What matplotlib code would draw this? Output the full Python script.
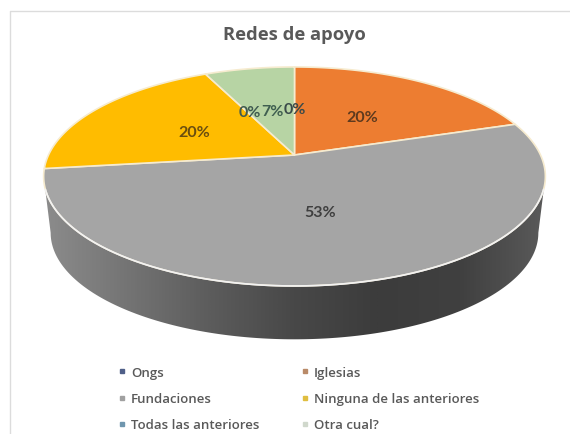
import numpy as np
import matplotlib
matplotlib.use("Agg")
import matplotlib.pyplot as plt
from matplotlib.colors import LinearSegmentedColormap
from matplotlib.lines import Line2D
from matplotlib.patches import Polygon

title = "Redes de apoyo"
categories = ["Ongs", "Iglesias", "Fundaciones", "Ninguna de las anteriores", "Todas las anteriores", "Otra cual?"]
values = [0, 20, 53, 20, 0, 7]
percent_labels = ["0%", "20%", "53%", "20%", "0%", "7%"]
colors = ["#4F5F88", "#ED7D31", "#A5A5A5", "#FFBC00", "#5F8FAE", "#B7D4A4"]
legend_colors = ["#4F5F88", "#B98A68", "#A0A0A0", "#E0BE40", "#6F96AE", "#D0D8CC"]
label_colors = ["#3A4A4A", "#5E3A1E", "#3F3F3F", "#6A4E10", "#3F5A50", "#3F5F50"]
label_pos = [(295, 110), (362, 118), (320, 213), (194, 133), (250, 113), (272, 112)]

FONT = "Open Sans"
fig = plt.figure(figsize=(5.7, 4.35), dpi=100)
ax = fig.add_axes([0, 0, 1, 1])
ax.axis("off")

# frame
ax.plot([570, 9.5, 9.5], [12, 12, 435], color="#DCDCDC", lw=1)

# perspective disc
CX, CY, B, A, K = 294.5, 156.0, 246.0, 105.3, 0.196


def project(theta, scale=1.0, shift=0.0):
    u, v = np.sin(theta), np.cos(theta)
    d = 1 + K * v
    return CX + scale * B * u / d, CY + shift - scale * A * v / d


# side wall, gradient clipped to the visible rim
widest = np.arccos(-K)
t = np.linspace(widest, 2 * np.pi - widest, 300)
bx, by = project(t, 0.972, 57)
tx, ty = project(t[::-1], 1.0, 0)
wall = Polygon(np.column_stack([np.r_[bx, tx], np.r_[by, ty]]), closed=True, transform=ax.transData, fc="none", ec="none")
ax.add_patch(wall)
cmap = LinearSegmentedColormap.from_list("wall", ["#8C8C8C", "#747474", "#5C5C5C", "#484848", "#3C3C3C", "#404040", "#5A5A5A"])
grad = ax.imshow(np.linspace(0, 1, 512)[None, :], extent=(43, 545, 345, 150), aspect="auto", cmap=cmap, zorder=1)
grad.set_clip_path(wall)
ax.set_xlim(0, 570)
ax.set_ylim(435, 0)

# slices clockwise from the top
edges = np.cumsum([0] + values) / sum(values) * 2 * np.pi
for i, val in enumerate(values):
    if val == 0:
        continue
    th = np.linspace(edges[i], edges[i + 1], 200)
    x, y = project(th)
    ax.fill(np.r_[CX, x], np.r_[CY, y], fc=colors[i], ec="#F6EBCF", lw=1.2, zorder=2, joinstyle="round")

# pale highlight along the front rim
t = np.linspace(np.pi * 0.6, np.pi * 1.4, 300)
x, y = project(t)
ax.plot(x, y, color="#F2F2F2", lw=1.2, zorder=3)

ax.text(294.5, 35, title, ha="center", va="center", fontsize=13.2, fontweight="bold", color="#595959", family=FONT)

for lab, (x, y), c in zip(percent_labels, label_pos, label_colors):
    ax.text(x, y, lab, ha="center", va="center", fontsize=11.5, fontweight="bold", color=c, family="Lato", zorder=5)

order = [0, 2, 4, 1, 3, 5]
handles = [Line2D([], [], ls="none", marker="s", ms=3, color=legend_colors[i], label=categories[i]) for i in order]
leg = ax.legend(handles=handles, ncol=2, frameon=False, loc="upper left", bbox_to_anchor=(117 / 570, 1 - 367 / 435),
                prop={"family": FONT, "size": 9.5, "weight": "semibold"}, labelcolor="#595959",
                handlelength=0.8, handletextpad=0.25, labelspacing=1.0, columnspacing=3.1, borderpad=0, borderaxespad=0)

fig.savefig("out.png", dpi=100)
